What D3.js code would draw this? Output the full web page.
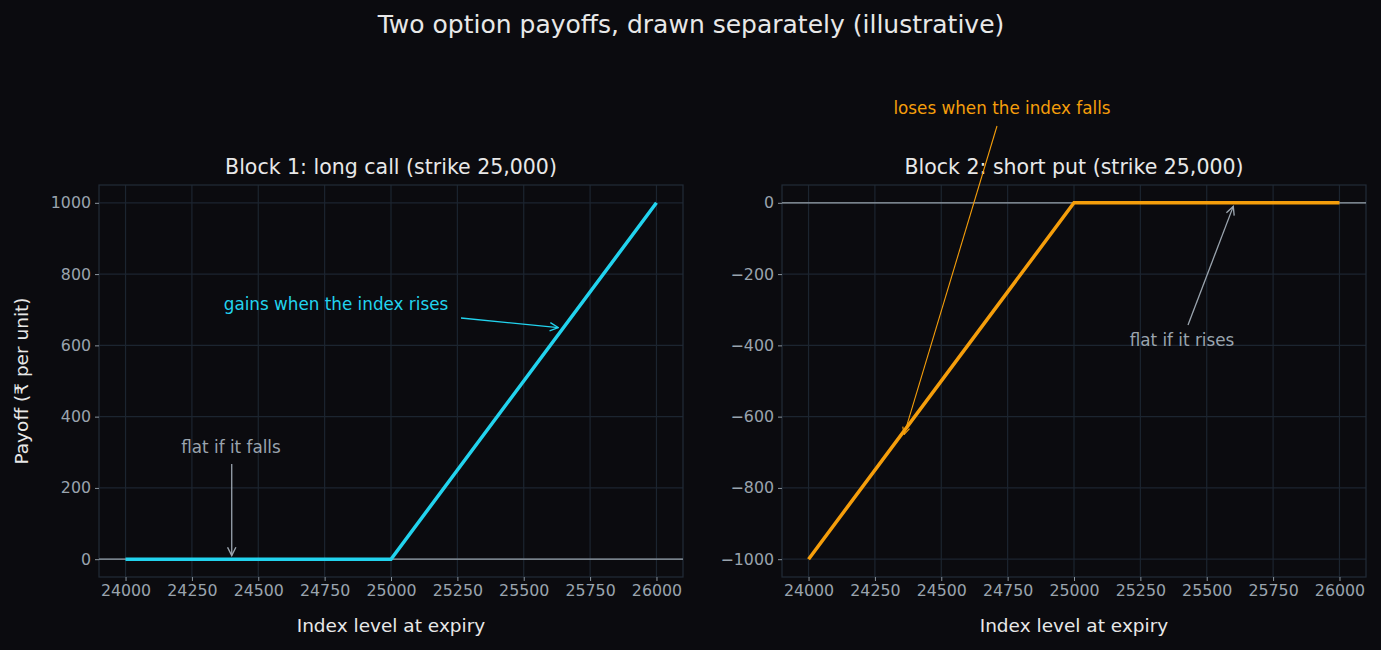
<!DOCTYPE html><html><head><meta charset="utf-8"><script src="https://cdn.jsdelivr.net/npm/d3@7"></script>
<style>body{margin:0;background:#0b0b0f}svg{font-family:"DejaVu Sans",sans-serif}</style></head><body><svg id="c" width="1381" height="650"></svg>
<script>
const callX=[24000,25000,26000], callY=[0,0,1000];
const putX=[24000,25000,26000], putY=[-1000,0,0];
const xTicks=[24000,24250,24500,24750,25000,25250,25500,25750,26000];
const callTicks=[0,200,400,600,800,1000], putTicks=[-1000,-800,-600,-400,-200,0];
const svg=d3.select("#c");
svg.append("rect").attr("width",1381).attr("height",650).attr("fill","#0b0b0f");
svg.append("text").attr("x",691).attr("y",33).attr("text-anchor","middle").attr("fill","#e8e8e8").attr("font-size",25).text("Two option payoffs, drawn separately (illustrative)");
function panel(L,xs,ys,yd,yt,col,title){
 const x=d3.scaleLinear().domain([23900,26100]).range([L,L+584]);
 const y=d3.scaleLinear().domain(yd).range([577,185]);
 const g=svg.append("g");
 xTicks.forEach(t=>g.append("line").attr("x1",x(t)).attr("x2",x(t)).attr("y1",185).attr("y2",577).attr("stroke","#1c2530").attr("stroke-width",1.2));
 yt.forEach(t=>g.append("line").attr("x1",L).attr("x2",L+584).attr("y1",y(t)).attr("y2",y(t)).attr("stroke","#1c2530").attr("stroke-width",1.2));
 g.append("rect").attr("x",L).attr("y",185).attr("width",584).attr("height",392).attr("fill","none").attr("stroke","#222c38").attr("stroke-width",1.2);
 g.append("line").attr("x1",L).attr("x2",L+584).attr("y1",y(0)).attr("y2",y(0)).attr("stroke","#9aa4ae").attr("stroke-width",1.3);
 const ax=g.append("g").attr("transform","translate(0,577)").call(d3.axisBottom(x).tickValues(xTicks).tickFormat(d3.format("d")).tickSize(4).tickPadding(4));
 const ay=g.append("g").attr("transform",`translate(${L},0)`).call(d3.axisLeft(y).tickValues(yt).tickFormat(d=>d<0?"\u2212"+(-d):d).tickSize(4).tickPadding(4));
 [ax,ay].forEach(a=>{a.select(".domain").remove();a.selectAll("line").attr("stroke","#8a949e");a.selectAll("text").attr("fill","#9aa4ae").attr("font-size",15.8).attr("font-family","DejaVu Sans");});
 g.append("path").datum(xs.map((v,i)=>[v,ys[i]])).attr("d",d3.line().x(d=>x(d[0])).y(d=>y(d[1]))).attr("fill","none").attr("stroke",col).attr("stroke-width",3.5);
 g.append("text").attr("x",L+292).attr("y",174).attr("text-anchor","middle").attr("fill","#e8e8e8").attr("font-size",20.5).text(title);
 g.append("text").attr("x",L+292).attr("y",632).attr("text-anchor","middle").attr("fill","#e8e8e8").attr("font-size",18.5).text("Index level at expiry");
 return {x,y,g};
}
const defs=svg.append("defs");
function arrow(id,c){defs.append("marker").attr("id",id).attr("viewBox","0 0 10 10").attr("refX",9).attr("refY",5).attr("markerWidth",8).attr("markerHeight",8).attr("orient","auto-start-reverse").append("path").attr("d","M1,1L9,5L1,9").attr("fill","none").attr("stroke",c).attr("stroke-width",1.3);}
arrow("ag","#9aa4ae");arrow("ac","#22d3ee");arrow("ao","#f59e0b");
function ann(g,tx,ty,txt,c,x1,y1,x2,y2,m,w){
 g.append("text").attr("x",tx).attr("y",ty).attr("text-anchor","middle").attr("fill",c).attr("font-size",16.8).text(txt);
 g.append("line").attr("x1",x1).attr("y1",y1).attr("x2",x2).attr("y2",y2).attr("stroke",c).attr("stroke-width",w||1.3).attr("marker-end",`url(#${m})`);
}
const p1=panel(99,callX,callY,[-50,1050],callTicks,"#22d3ee","Block 1: long call (strike 25,000)");
const p2=panel(782,putX,putY,[-1050,50],putTicks,"#f59e0b","Block 2: short put (strike 25,000)");
svg.append("text").attr("transform","translate(28,381) rotate(-90)").attr("text-anchor","middle").attr("fill","#e8e8e8").attr("font-size",18.5).text("Payoff (₹ per unit)");
ann(p1.g,231,453,"flat if it falls","#9aa4ae",p1.x(24400),464,p1.x(24400),p1.y(10),"ag");
ann(p1.g,336,310,"gains when the index rises","#22d3ee",461,318,p1.x(25630),p1.y(650),"ac");
ann(p2.g,1182,346,"flat if it rises","#9aa4ae",1188,325,p2.x(25600),p2.y(-10),"ag");
ann(p2.g,1002,114,"loses when the index falls","#f59e0b",997,126,p2.x(24360),p2.y(-650),"ao",1.1);
</script></body></html>
